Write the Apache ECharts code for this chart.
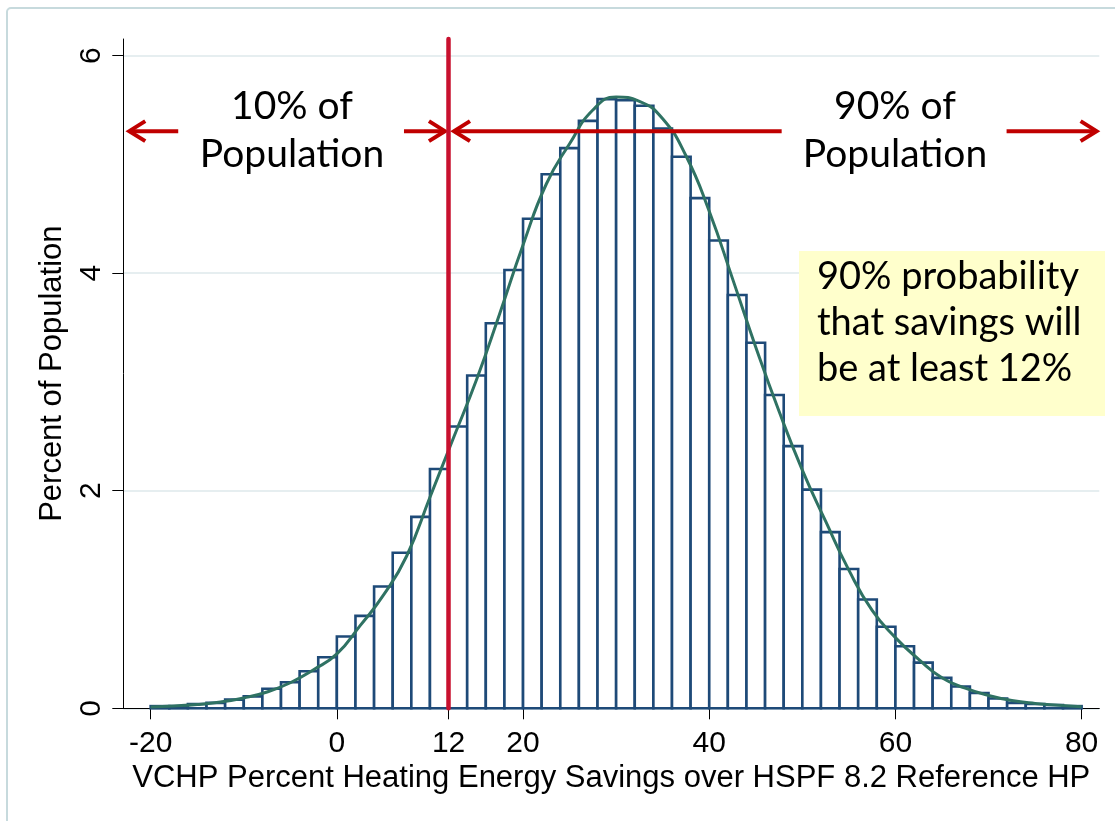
<!DOCTYPE html>
<html>
<head>
<meta charset="utf-8">
<title>VCHP savings histogram</title>
<script src="https://cdn.jsdelivr.net/npm/echarts@6/dist/echarts.min.js"></script>
<style>
  html, body { margin: 0; padding: 0; background: #fff; }
  #chart { width: 1115px; height: 821px; }
</style>
</head>
<body>
<div id="chart"></div>
<script>
// histogram bins (left edge, width 2), percent of population
const binWidth = 2
const binStarts = [-20, -18, -16, -14, -12, -10, -8, -6, -4, -2,
  0, 2, 4, 6, 8, 10, 12, 14, 16, 18,
  20, 22, 24, 26, 28, 30, 32, 34, 36, 38,
  40, 42, 44, 46, 48, 50, 52, 54, 56, 58,
  60, 62, 64, 66, 68, 70, 72, 74, 76, 78]
const binPercent = [0.02, 0.02, 0.04, 0.05, 0.08, 0.11, 0.18, 0.24, 0.34, 0.47,
  0.66, 0.85, 1.12, 1.43, 1.76, 2.20, 2.59, 3.06, 3.54, 4.03,
  4.50, 4.91, 5.15, 5.40, 5.60, 5.59, 5.54, 5.33, 5.07, 4.69,
  4.30, 3.80, 3.36, 2.88, 2.41, 2.01, 1.62, 1.28, 1.00, 0.75,
  0.57, 0.42, 0.28, 0.20, 0.14, 0.09, 0.05, 0.04, 0.03, 0.02]

// fitted density curve
const curveX = [-20, -17.5, -15, -12.5, -10, -7.5, -5, -2.5, 0, 2.5, 5, 7.5, 10, 12.5, 15, 17.5, 20,
  22.5, 25, 27.5, 30, 32.5, 35, 37.5, 40, 42.5, 45, 47.5, 50, 52.5, 55, 57.5, 60, 62.5, 65, 67.5,
  70, 72.5, 75, 77.5, 80]
const curveY = [0.013, 0.022, 0.035, 0.058, 0.095, 0.15, 0.235, 0.355, 0.50, 0.76, 1.04, 1.40, 1.94, 2.48, 3.02, 3.63, 4.26,
  4.82, 5.19, 5.50, 5.62, 5.58, 5.42, 5.08, 4.57, 3.95, 3.32, 2.73, 2.19, 1.72, 1.27, 0.90, 0.65, 0.45, 0.28, 0.185,
  0.118, 0.072, 0.045, 0.028, 0.015]

// tick labels
const xTicks = [-20, 0, 12, 20, 40, 60, 80]
const yTicks = [0, 2, 4, 6]

const threshold = 12 // 10th percentile

// arrows: [tail, tip] in x units, at height arrowLevel
const arrowLevel = 5.306
const arrows = [[-17.04, -22.3], [7.21, 11.61], [47.78, 12.58], [71.94, 81.61]]

const axisFont = 'Arial, "Liberation Sans", sans-serif'
const noteFont = 'Lato, "Open Sans", sans-serif'

let chart = echarts.init(document.getElementById('chart'), null, { renderer: 'canvas' })

let histData = binStarts.map((s, i) => [s, s + binWidth, binPercent[i]])
let curveData = curveX.map((x, i) => [x, curveY[i]])
let arrowData = arrows.map(a => [a[0], a[1], arrowLevel])

let option = {
    animation: false,
    backgroundColor: '#fff',
    grid: {
        left: 123.3,
        right: 15.7,
        top: 39,
        bottom: 112.7
    },
    xAxis: {
        type: 'value',
        min: -22.94,
        max: 81.9,
        name: 'VCHP Percent Heating Energy Savings over HSPF 8.2 Reference HP',
        nameLocation: 'middle',
        nameGap: 48,
        nameTextStyle: { color: '#000', fontSize: 31, fontFamily: axisFont },
        axisLine: { show: true, onZero: false, lineStyle: { color: '#000', width: 1 } },
        axisTick: { show: true, length: 11, customValues: xTicks, lineStyle: { color: '#000', width: 1 } },
        axisLabel: { show: true, customValues: xTicks, margin: 20, color: '#000', fontSize: 30, fontFamily: axisFont },
        splitLine: { show: false }
    },
    yAxis: {
        type: 'value',
        min: 0,
        max: 6.153,
        name: 'Percent of Population',
        nameLocation: 'middle',
        nameRotate: 90,
        nameGap: 52,
        nameTextStyle: { color: '#000', fontSize: 31, fontFamily: axisFont },
        axisLine: { show: true, onZero: false, lineStyle: { color: '#000', width: 1 } },
        axisTick: { show: true, length: 11, customValues: yTicks, lineStyle: { color: '#000', width: 1 } },
        axisLabel: { show: true, customValues: yTicks, rotate: 90, margin: 17, color: '#000', fontSize: 30, fontFamily: axisFont },
        splitLine: { show: true, lineStyle: { color: '#e6eef0', width: 2 } }
    },
    graphic: [
        {   // outer frame
            type: 'rect', silent: true, z: -10,
            shape: { x: 7, y: 8, width: 1200, height: 900, r: 4 },
            style: { fill: null, stroke: '#c7dadd', lineWidth: 2 }
        },
        {
            type: 'text', z: 100,
            style: { text: '10% of\nPopulation', x: 292, y: 82, textAlign: 'center', verticalAlign: 'top',
                font: '39px ' + noteFont, lineHeight: 48, fill: '#000' }
        },
        {
            type: 'text', z: 100,
            style: { text: '90% of\nPopulation', x: 895, y: 82, textAlign: 'center', verticalAlign: 'top',
                font: '39px ' + noteFont, lineHeight: 48, fill: '#000' }
        },
        {
            type: 'rect', z: 90,
            shape: { x: 799, y: 251, width: 306, height: 165 },
            style: { fill: '#ffffcc', stroke: null }
        },
        {
            type: 'text', z: 100,
            style: { text: '90% probability\nthat savings will\nbe at least 12%', x: 817, y: 254, textAlign: 'left', verticalAlign: 'top',
                font: '38px ' + noteFont, lineHeight: 46, fill: '#000' }
        }
    ],
    series: [
        {
            name: 'histogram',
            type: 'custom',
            data: histData,
            encode: { x: [0, 1], y: 2 },
            z: 2,
            renderItem: function (params, api) {
                let topLeft = api.coord([api.value(0), api.value(2)])
                let bottomRight = api.coord([api.value(1), 0])
                return {
                    type: 'rect',
                    shape: {
                        x: topLeft[0],
                        y: topLeft[1],
                        width: bottomRight[0] - topLeft[0],
                        height: bottomRight[1] - topLeft[1]
                    },
                    style: { fill: '#fff', stroke: '#1e4a78', lineWidth: 2.6 }
                }
            }
        },
        {
            name: 'normal',
            type: 'line',
            data: curveData,
            smooth: true,
            showSymbol: false,
            z: 3,
            lineStyle: { color: '#2f7263', width: 3 },
            markLine: {
                silent: true,
                symbol: ['none', 'none'],
                label: { show: false },
                lineStyle: { color: '#c8102e', width: 4.5, type: 'solid', cap: 'round' },
                data: [{ xAxis: threshold }]
            }
        },
        {
            name: 'arrows',
            type: 'custom',
            data: arrowData,
            encode: { x: [0, 1], y: 2 },
            clip: false,
            z: 4,
            renderItem: function (params, api) {
                let tail = api.coord([api.value(0), api.value(2)])
                let tip = api.coord([api.value(1), api.value(2)])
                let dir = tip[0] > tail[0] ? 1 : -1
                let color = '#c00000'
                return {
                    type: 'group',
                    children: [
                        {
                            type: 'line',
                            shape: { x1: tail[0], y1: tail[1], x2: tip[0] - dir * 2, y2: tip[1] },
                            style: { stroke: color, lineWidth: 4 }
                        },
                        {
                            type: 'polyline',
                            shape: { points: [[tip[0] - dir * 16, tip[1] - 10], [tip[0], tip[1]], [tip[0] - dir * 16, tip[1] + 10]] },
                            style: { stroke: color, lineWidth: 4, fill: null, lineJoin: 'miter' }
                        }
                    ]
                }
            }
        }
    ]
}

chart.setOption(option)
</script>
</body>
</html>
